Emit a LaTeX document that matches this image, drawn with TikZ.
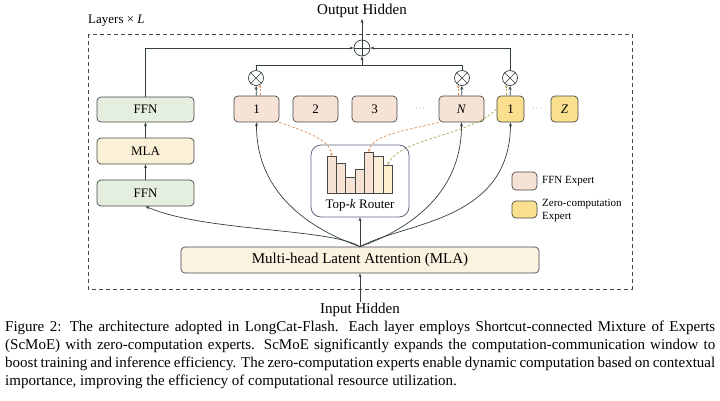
\documentclass[tikz,border=0pt]{standalone}
\usepackage{fontspec}
\setmainfont{Liberation Serif}
\usetikzlibrary{arrows.meta}

\definecolor{boxline}{HTML}{474747}
\definecolor{wire}{HTML}{33403A}
\definecolor{expfill}{HTML}{F7E3D6}
\definecolor{zerofill}{HTML}{FAE08E}
\definecolor{ffnfill}{HTML}{E4EFE0}
\definecolor{mlafill}{HTML}{FBF0D8}
\definecolor{attnfill}{HTML}{FBF2DF}
\definecolor{gateorange}{HTML}{E0894A}
\definecolor{gateolive}{HTML}{A9A74C}
\definecolor{routerline}{HTML}{5C6580}

\tikzset{
  box/.style={draw=boxline, rounded corners=4pt, line width=0.7pt, inner sep=0pt,
    minimum height=26pt, font=\fontsize{13}{15}\selectfont},
  expert/.style={box, fill=expfill, minimum width=45pt},
  zero/.style={box, fill=zerofill, minimum width=27pt},
  wires/.style={draw=wire, line width=0.7pt, -{Stealth[length=4pt,width=3pt]}},
  gate/.style={draw=gateorange, dashed, line width=0.7pt, dash pattern=on 2.5pt off 2pt,
    -{Stealth[length=3pt,width=2.5pt]}},
  mult/.style={circle, draw=wire, line width=0.7pt, fill=white, minimum size=15pt, inner sep=0pt,
    path picture={\draw[wire, line width=0.6pt] (path picture bounding box.north west) -- (path picture bounding box.south east)
      (path picture bounding box.north east) -- (path picture bounding box.south west);}},
  add/.style={circle, draw=wire, line width=0.7pt, fill=white, minimum size=16pt, inner sep=0pt,
    path picture={\draw[wire, line width=0.6pt] (path picture bounding box.north) -- (path picture bounding box.south)
      (path picture bounding box.east) -- (path picture bounding box.west);}},
  bar/.style={draw=boxline, line width=0.5pt}
}

\begin{document}
\begin{tikzpicture}[x=1pt,y=-1pt]
  \useasboundingbox (0,0) rectangle (720,400);

  % layer frame
  \draw[boxline, line width=0.7pt, dash pattern=on 4pt off 3pt] (88,34) rectangle (632,289);
  \node[anchor=west, inner sep=0pt, font=\fontsize{13}{15}\selectfont] (layers) at (88,21) {Layers × \textit{L}};

  % left column
  \node[box, fill=ffnfill, minimum width=97pt, minimum height=25pt] (ffnA) at (145.5,109.5) {FFN};
  \node[box, fill=mlafill, minimum width=97pt] (mla) at (145.5,151) {MLA};
  \node[box, fill=ffnfill, minimum width=97pt] (ffnB) at (145.5,193) {FFN};

  % experts
  \node[expert] (e1) at (256.5,109) {1};
  \node[expert] (e2) at (315.5,109) {2};
  \node[expert] (e3) at (374.5,109) {3};
  \node[font=\fontsize{8}{10}\selectfont, text=boxline] (d1) at (420,109) {$\cdots$};
  \node[expert] (eN) at (461.5,109) {\textit{N}};
  \node[zero] (z1) at (510.5,109) {1};
  \node[font=\fontsize{8}{10}\selectfont, text=boxline] (d2) at (537,109) {$\cdots$};
  \node[zero] (zZ) at (564.5,109) {\textit{Z}};

  % weighting and sum
  \node[mult] (m1) at (256,78) {};
  \node[mult] (mN) at (462,78) {};
  \node[mult] (mZ) at (510,78) {};
  \node[add] (plus) at (362,48) {};
  \coordinate (j) at (362,65.5);

  % router
  \node[draw=routerline, line width=0.8pt, rounded corners=10pt, fill=white,
    minimum width=98pt, minimum height=72pt] (router) at (360,181) {};
  \foreach \i/\t/\c in {1/156/expfill, 2/163/expfill, 3/177/expfill, 4/169/expfill,
      5/152/expfill, 6/156/expfill!70!zerofill!60!white, 7/165/zerofill!45!white}{
    \pgfmathsetmacro\xa{317.7+9.3*\i}
    \filldraw[bar, fill=\c] (\xa,193) rectangle ({\xa+9.3},\t);
  }
  \node[font=\fontsize{13}{15}\selectfont] (rlabel) at (360,205) {Top-\textit{k} Router};

  % attention and io
  \node[box, fill=attnfill, minimum width=358pt, font=\fontsize{15}{17}\selectfont] (attn) at (360,260)
    {Multi-head Latent Attention (MLA)};
  \node[font=\fontsize{15}{17}\selectfont, inner sep=1pt] (inp) at (360,310) {Input Hidden};
  \node[font=\fontsize{15}{17}\selectfont, inner sep=1pt] (out) at (362,11) {Output Hidden};

  % legend
  \node[box, fill=expfill, minimum width=25pt, minimum height=18pt] (lgE) at (524.5,181) {};
  \node[box, fill=zerofill, minimum width=25pt, minimum height=17pt] (lgZ) at (524.5,209.5) {};
  \node[anchor=west, inner sep=0pt, font=\fontsize{11}{13}\selectfont] (lgEt) at (542,181) {FFN Expert};
  \node[anchor=west, inner sep=0pt, align=left, font=\fontsize{11}{13}\selectfont] (lgZt) at (542,210.5)
    {Zero-computation\\Expert};

  % main flow
  \draw[wires] (inp.north) -- (attn.north |- attn.south);
  \draw[wires] (attn.north) -- (router.south);
  \draw[wires] (attn.north) .. controls (330,228) and (205,232) .. (ffnB.south);
  \draw[wires] (attn.north) .. controls (330,236) and (256,205) .. (e1.south);
  \draw[wires] (attn.north) .. controls (390,236) and (462,205) .. (eN.south);
  \draw[wires] (attn.north) .. controls (405,222) and (510,222) .. (z1.south);
  \draw[wires] (ffnB) -- (mla);
  \draw[wires] (mla) -- (ffnA);
  \draw[wires] (e1) -- (m1);
  \draw[wires] (eN) -- (mN);
  \draw[wires] (z1) -- (mZ);
  \draw[draw=wire, line width=0.7pt] (m1.north) |- (j) -| (mN.north);
  \draw[wires] (j) -- (plus.south);
  \draw[wires] (ffnA.north) |- (plus.west);
  \draw[wires] (mZ.north) |- (plus.east);
  \draw[wires] (plus.north) -- (out.south);

  % routing weights
  \draw[gate] (e1.south east) .. controls (300,130) and (330,138) .. (331.6,156);
  \draw[gate] (eN.south west) .. controls (410,130) and (372,134) .. (368.8,152);
  \draw[gate, draw=gateolive] (z1.west) .. controls (470,136) and (400,138) .. (387.6,165);
  \draw[gate] (m1.-60 |- e1.north) -- (m1.-60);
  \draw[gate] (mN.-120 |- eN.north) -- (mN.-120);
  \draw[gate, draw=gateolive] (mZ.-120 |- z1.north) -- (mZ.-120);

  % caption
  \node[anchor=north west, inner sep=0pt, text width=710pt, align=justify,
    font=\fontsize{15}{18}\selectfont] (cap) at (5,320.5)
    {Figure 2: The architecture adopted in LongCat-Flash. Each layer employs Shortcut-connected Mixture of Experts\linebreak
     (ScMoE) with zero-computation experts. ScMoE significantly expands the computation-communication window to\linebreak
     boost training and inference efficiency. The zero-computation experts enable dynamic computation based on contextual\linebreak
     importance, improving the efficiency of computational resource utilization.};
\end{tikzpicture}
\end{document}
